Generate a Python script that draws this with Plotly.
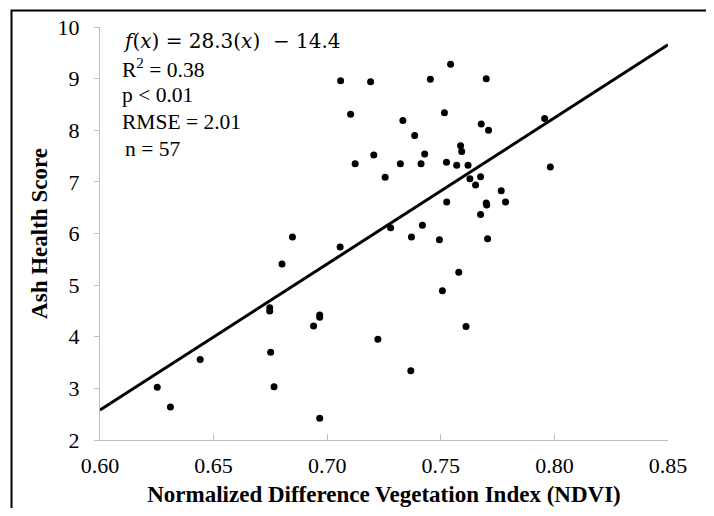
import plotly.graph_objects as go

# ---- data ----
ndvi = [0.6847, 0.7059, 0.7191, 0.7454, 0.7543, 0.7103, 0.7333, 0.7516, 0.7385, 0.7123,
        0.7205, 0.7322, 0.7413, 0.7429, 0.7525, 0.7255, 0.7526, 0.7279, 0.7419, 0.7371,
        0.7494, 0.7700, 0.7678, 0.7710, 0.7957, 0.7587, 0.7592, 0.7570, 0.7620, 0.7628,
        0.7675, 0.7653, 0.7982, 0.7766, 0.7785, 0.7700, 0.7675, 0.7706, 0.7579, 0.7507,
        0.7611, 0.7057, 0.6967, 0.6967, 0.6940, 0.7223, 0.7368, 0.6967, 0.6801, 0.6747,
        0.6747, 0.6751, 0.6766, 0.6441, 0.6252, 0.6310, 0.7702]
ash = [5.93, 8.96, 8.94, 8.99, 9.28, 8.31, 8.19, 8.34, 7.90, 7.35,
       7.52, 7.35, 7.35, 7.54, 7.38, 7.09, 6.61, 6.11, 6.16, 5.93,
       5.88, 9.00, 8.12, 8.00, 8.23, 7.70, 7.59, 7.32, 7.32, 7.06,
       7.10, 6.94, 7.29, 6.83, 6.61, 6.59, 6.37, 5.90, 5.25, 4.89,
       4.20, 5.74, 4.42, 4.38, 4.21, 3.95, 3.34, 2.42, 5.41, 4.56,
       4.50, 3.70, 3.03, 3.56, 3.02, 2.64, 6.55]
slope = 28.3
intercept = -14.4
fit_x = [0.60, 0.85]
x_tick_vals = [0.60, 0.65, 0.70, 0.75, 0.80, 0.85]
x_tick_text = ["0.60", "0.65", "0.70", "0.75", "0.80", "0.85"]
y_tick_vals = [2, 3, 4, 5, 6, 7, 8, 9, 10]
equation_text = "<i>f</i>(<i>x</i>) = 28.3(<i>x</i>)&nbsp; − 14.4"
stats_lines = ["R<sup>2</sup> = 0.38", "p &lt; 0.01", "RMSE = 2.01", "n = 57"]

# the page body adds an 8px offset, so work in reference pixels minus 8
OFF = 8
W, H = 714 - 2 * OFF, 516 - 2 * OFF
PL, PR, PT, PB = 100 - OFF, 668 - OFF, 27 - OFF, 440 - OFF  # plot box in figure px
L, R, T, B = PL, W - PR, PT, H - PB
PW, PH = PR - PL, PB - PT

def px(xref):
    return (xref - OFF - PL) / PW

def py(yref):
    return (PB - (yref - OFF)) / PH

fit_y = [slope * v + intercept for v in fit_x]

serif = "Liberation Serif, Times New Roman, serif"

fig = go.Figure()
fig.add_trace(go.Scatter(x=ndvi, y=ash, mode="markers",
                         marker=dict(color="black", size=7, line=dict(width=0)),
                         showlegend=False, cliponaxis=False))
fig.add_trace(go.Scatter(x=fit_x, y=fit_y, mode="lines",
                         line=dict(color="black", width=3),
                         showlegend=False))

axis_common = dict(showgrid=False, zeroline=False, showline=True,
                   linecolor="#bfbfbf", linewidth=1, tickcolor="#bfbfbf",
                   tickfont=dict(family=serif, size=22, color="black"))

fig.update_xaxes(range=[0.60, 0.85], tickvals=x_tick_vals, ticktext=x_tick_text,
                 ticks="inside", ticklen=6, tickwidth=1, ticklabelstandoff=6,
                 title=dict(text="<b>Normalized Difference Vegetation Index (NDVI)</b>",
                            font=dict(family=serif, size=23, color="black"), standoff=8),
                 **axis_common)
fig.update_yaxes(range=[2, 10], tickvals=y_tick_vals,
                 ticks="outside", ticklen=5, tickwidth=1, ticklabelstandoff=10,
                 title=dict(text="<b>Ash Health Score</b>",
                            font=dict(family=serif, size=23, color="black"), standoff=3),
                 **axis_common)

annotations = [dict(xref="paper", yref="paper", x=px(121), y=py(41),
                    xanchor="left", yanchor="middle", showarrow=False,
                    text=equation_text,
                    font=dict(family="DejaVu Serif, serif", size=20, color="black"))]
line_y = [68, 95, 122, 149]
line_x = [120, 120, 120, 123]
for txt, xx, yy in zip(stats_lines, line_x, line_y):
    annotations.append(dict(xref="paper", yref="paper", x=px(xx), y=py(yy),
                            xanchor="left", yanchor="middle", showarrow=False,
                            text=txt, font=dict(family=serif, size=21.5, color="black")))

# outer chart frame drawn in figure-pixel space (paper refs outside the plot box)
fx0, fx1, fy0, fy1 = px(11.5), px(711.5), py(512.5), py(10.5)
frame = [dict(type="rect", xref="paper", yref="paper", x0=fx0, x1=fx1, y0=fy0, y1=fy1,
              line=dict(color="black", width=2), fillcolor="rgba(0,0,0,0)",
              layer="above")]

fig.update_layout(width=W, height=H, margin=dict(l=L, r=R, t=T, b=B, autoexpand=False),
                  paper_bgcolor="white", plot_bgcolor="white",
                  annotations=annotations, shapes=frame)

fig.write_html("out.html")
